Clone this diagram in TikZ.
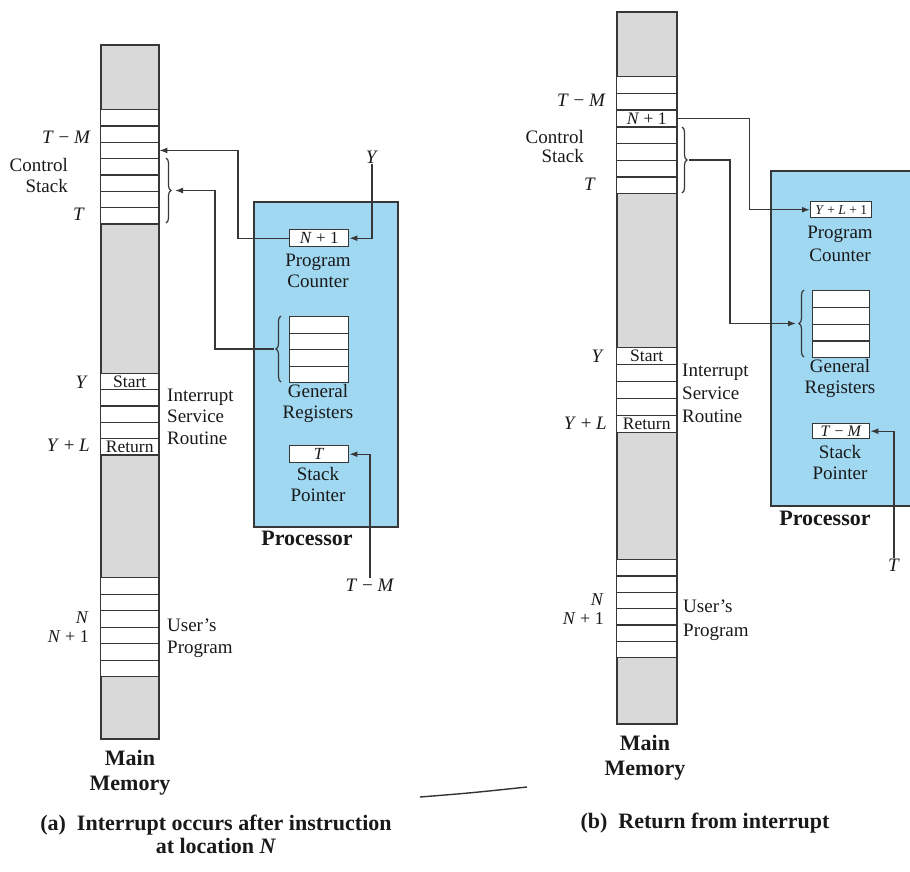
\documentclass[tikz,border=0pt]{standalone}
\usepackage{fontspec}
\setmainfont{Liberation Serif}
\usetikzlibrary{positioning,arrows.meta,decorations.pathreplacing}
\definecolor{memgray}{RGB}{217,217,217}
\definecolor{cpublue}{RGB}{160,216,242}
\definecolor{edge}{RGB}{55,55,55}
\newcommand{\var}[1]{\textit{#1}}

\begin{document}
\begin{tikzpicture}[
  x=1pt, y=-1pt,
  every node/.style={font=\fontsize{19}{21}\selectfont, text=black!90, inner sep=1pt},
  memcol/.style={draw=edge, line width=1.5pt, fill=memgray, minimum width=58pt, anchor=north west, inner sep=0pt},
  cell/.style={draw=edge, line width=1.4pt, fill=white, minimum width=58pt, anchor=north west, inner sep=0pt},
  intext/.style={font=\fontsize{17.5}{17.5}\selectfont},
  cpu/.style={draw=edge, line width=1.5pt, fill=cpublue, anchor=north west, inner sep=0pt},
  reg/.style={draw=edge, line width=1.4pt, fill=white, minimum width=59pt, minimum height=16.5pt, anchor=north west, inner sep=0pt, font=\fontsize{17}{17}\selectfont},
  lbl/.style={align=center},
  bold/.style={font=\fontsize{22}{25}\selectfont\bfseries, align=center},
  arrow/.style={-{Latex[length=8pt,width=6pt]}, line width=1.4pt, draw=edge},
  brace/.style={draw=edge, line width=1.2pt, decorate, decoration={brace, amplitude=5pt}}
]
\useasboundingbox (0,0) rectangle (910,871);
\clip (0,0) rectangle (910,871);

% (a) interrupt occurs
\node[memcol, minimum height=694pt] (a-mem) at (100,44) {};
\foreach \i in {1,...,7}
  \node[cell, minimum height=16.3pt] (a-stack-\i) at (100,{109+16.3*(\i-1)}) {};
\foreach \i in {1,...,5}
  \node[cell, minimum height=16.3pt] (a-isr-\i) at (100,{372.7+16.3*(\i-1)}) {};
\foreach \i in {1,...,6}
  \node[cell, minimum height=16.5pt] (a-user-\i) at (100,{577+16.5*(\i-1)}) {};
\node[intext] (a-start) at (a-isr-1) {Start};
\node[intext] (a-return) at (a-isr-5) {Return};

\node[anchor=east] (a-lbl-tm) at (92,137) {\var{T} − \var{M}};
\node[anchor=east, align=right] (a-lbl-cs) at (69,175.5) {Control\\Stack};
\node[anchor=east] (a-lbl-t) at (86,214) {\var{T}};
\node[anchor=east] (a-lbl-y) at (89,382) {\var{Y}};
\node[anchor=east] (a-lbl-yl) at (91,445) {\var{Y} + \var{L}};
\node[anchor=east, align=right, font=\fontsize{18}{19}\selectfont] (a-lbl-n) at (90,627) {\var{N}\\\var{N} + 1};
\node[anchor=west, align=left, font=\fontsize{19}{21.5}\selectfont] (a-lbl-isr) at (166,416.5) {Interrupt\\Service\\Routine};
\node[anchor=west, align=left, font=\fontsize{19}{22}\selectfont] (a-lbl-up) at (166,638) {User's\\Program};
\draw[brace] (166,158) -- (166,223);
\coordinate (a-sbrace) at (175,190.5);

\node[cpu, minimum width=144pt, minimum height=325pt] (a-cpu) at (253,201) {};
\node[reg, minimum height=17pt] (a-pc) at (289,229) {\var{N} + 1};
\node[lbl] (a-lbl-pc) at (318,270.5) {Program\\Counter};
\foreach \i in {1,...,4}
  \node[reg] (a-reg-\i) at (289,{316+16.5*(\i-1)}) {};
\draw[brace] (281,382) -- (281,316);
\coordinate (a-gbrace) at (274,349);
\node[lbl] (a-lbl-gr) at (318,403) {General\\Registers};
\node[reg, minimum height=17pt] (a-sp) at (289,445) {\var{T}};
\node[lbl] (a-lbl-sp) at (318,484) {Stack\\Pointer};
\node[bold] (a-lbl-cpu) at (307,538) {Processor};
\node (a-y) at (372,157) {\var{Y}};
\node (a-tm) at (370,585) {\var{T} − \var{M}};

\draw[arrow] (a-pc.west) -- ++(-51,0) |- (a-stack-3.east);
\draw[arrow] (a-gbrace) -- ++(-59,0) |- (a-sbrace);
\draw[arrow] (a-y.south) |- (a-pc.east);
\draw[arrow] (a-tm.north) |- (a-sp.east);

\node[bold] (a-lbl-mm) at (130,772.5) {Main\\Memory};
\node[bold, font=\fontsize{22}{23}\selectfont\bfseries] (a-cap) at (216,834) {(a)\enspace Interrupt occurs after instruction\\at location \var{N}};

% (b) return from interrupt
\node[memcol, minimum width=60pt, minimum height=712pt] (b-mem) at (616,11) {};
\foreach \i in {1,...,7}
  \node[cell, minimum width=60pt, minimum height=16.7pt] (b-stack-\i) at (616,{76+16.7*(\i-1)}) {};
\foreach \i in {1,...,5}
  \node[cell, minimum width=60pt, minimum height=17pt] (b-isr-\i) at (616,{347+17*(\i-1)}) {};
\foreach \i in {1,...,6}
  \node[cell, minimum width=60pt, minimum height=16.3pt] (b-user-\i) at (616,{559+16.3*(\i-1)}) {};
\node[intext] (b-n1) at (b-stack-3) {\var{N} + 1};
\node[intext] (b-start) at (b-isr-1) {Start};
\node[intext] (b-return) at (b-isr-5) {Return};

\node[anchor=east] (b-lbl-tm) at (607,100) {\var{T} − \var{M}};
\node[anchor=east, align=right, font=\fontsize{19}{19}\selectfont] (b-lbl-cs) at (585,146) {Control\\Stack};
\node[anchor=east] (b-lbl-t) at (597,184) {\var{T}};
\node[anchor=east] (b-lbl-y) at (605,356) {\var{Y}};
\node[anchor=east] (b-lbl-yl) at (608,423) {\var{Y} + \var{L}};
\node[anchor=east, align=right, font=\fontsize{18}{19}\selectfont] (b-lbl-n) at (605,609) {\var{N}\\\var{N} + 1};
\node[anchor=west, align=left, font=\fontsize{19}{23}\selectfont] (b-lbl-isr) at (681,393) {Interrupt\\Service\\Routine};
\node[anchor=west, align=left, font=\fontsize{19}{24}\selectfont] (b-lbl-up) at (682,620) {User's\\Program};
\draw[brace] (682,127) -- (682,193);
\coordinate (b-sbrace) at (689,160);

\node[cpu, minimum width=150pt, minimum height=335pt] (b-cpu) at (770,170) {};
\node[reg, minimum width=61pt, minimum height=16pt, font=\fontsize{13.5}{13.5}\selectfont] (b-pc) at (810,201) {\var{Y} + \var{L} + 1};
\node[lbl, font=\fontsize{19}{23}\selectfont] (b-lbl-pc) at (840,243.5) {Program\\Counter};
\foreach \i in {1,...,4}
  \node[reg, minimum width=57pt, minimum height=16.75pt] (b-reg-\i) at (812,{290+16.75*(\i-1)}) {};
\draw[brace] (804,357) -- (804,290);
\coordinate (b-gbrace) at (796,323.5);
\node[lbl] (b-lbl-gr) at (840,378.5) {General\\Registers};
\node[reg, minimum width=57pt, minimum height=15pt, font=\fontsize{16}{16}\selectfont] (b-sp) at (812,423) {\var{T} − \var{M}};
\node[lbl] (b-lbl-sp) at (840,462.5) {Stack\\Pointer};
\node[bold] (b-lbl-cpu) at (825,518) {Processor};
\node (b-t) at (894,565) {\var{T}};

\draw[arrow] (b-stack-3.east) -- ++(72,0) |- (b-pc.west);
\draw[arrow] (b-sbrace) -- ++(41,0) |- (b-gbrace);
\draw[arrow] (b-t.north) |- (b-sp.east);

\node[bold] (b-lbl-mm) at (645,757.5) {Main\\Memory};
\node[bold] (b-cap) at (705,823) {(b)\enspace Return from interrupt};

% stray pen mark
\draw[line width=1.4pt, black!80] (420,797) .. controls (470,793) .. (527,787);
\end{tikzpicture}
\end{document}
